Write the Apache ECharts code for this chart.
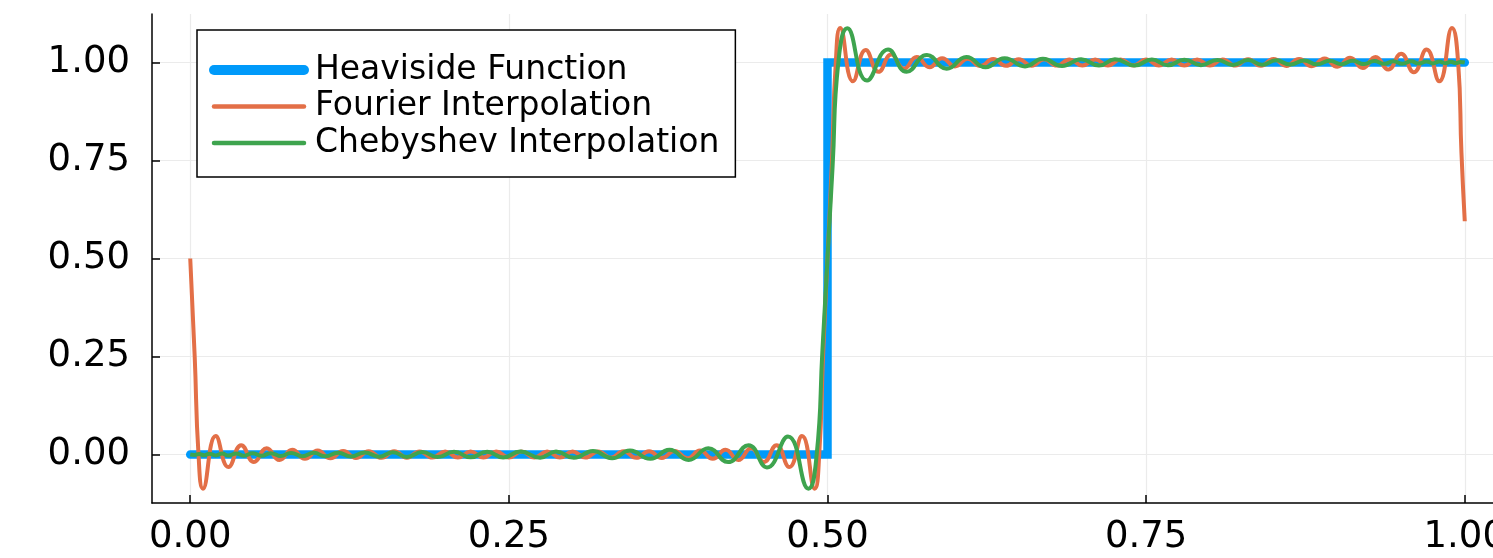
<!DOCTYPE html>
<html>
<head>
<meta charset="utf-8">
<script src="https://cdn.jsdelivr.net/npm/echarts@6/dist/echarts.min.js"></script>
<style>
  html, body { margin: 0; padding: 0; background: #fff; }
  #chart { width: 1493px; height: 558px; }
</style>
</head>
<body>
<div id="chart"></div>
<script>
const seriesNames = ["Heaviside Function", "Fourier Interpolation", "Chebyshev Interpolation"];
const xTicks = [0, 0.25, 0.5, 0.75, 1];
const yTicks = [0, 0.25, 0.5, 0.75, 1];

const heavisideX = [0, 0.5, 0.5, 1];
const heavisideY = [0, 0, 1, 1];

// extremes of the wiggles plus a few points on the steep parts
const fourierX = [
  0, 0.0035, 0.0065,
  0.01, 0.02, 0.03, 0.04, 0.05, 0.06, 0.07, 0.08, 0.09, 0.10,
  0.11, 0.12, 0.13, 0.14, 0.15, 0.16, 0.17, 0.18, 0.19, 0.20,
  0.21, 0.22, 0.23, 0.24, 0.25, 0.26, 0.27, 0.28, 0.29, 0.30,
  0.31, 0.32, 0.33, 0.34, 0.35, 0.36, 0.37, 0.38, 0.39, 0.40,
  0.41, 0.42, 0.43, 0.44, 0.45, 0.46, 0.47, 0.48, 0.49,
  0.4935, 0.4965, 0.5, 0.5035, 0.5065,
  0.51, 0.52, 0.53, 0.54, 0.55, 0.56, 0.57, 0.58, 0.59, 0.60,
  0.61, 0.62, 0.63, 0.64, 0.65, 0.66, 0.67, 0.68, 0.69, 0.70,
  0.71, 0.72, 0.73, 0.74, 0.75, 0.76, 0.77, 0.78, 0.79, 0.80,
  0.81, 0.82, 0.83, 0.84, 0.85, 0.86, 0.87, 0.88, 0.89, 0.90,
  0.91, 0.92, 0.93, 0.94, 0.95, 0.96, 0.97, 0.98, 0.99,
  0.9948, 0.9974, 1.0
];
const fourierY = [
  0.5, 0.25, 0.0,
  -0.087, 0.047, -0.032, 0.024, -0.019, 0.016, -0.014, 0.012, -0.011, 0.010,
  -0.0095, 0.009, -0.0088, 0.0086, -0.0084, 0.0082, -0.008, 0.008, -0.0078, 0.0078,
  -0.0077, 0.0076, -0.0076, 0.0076, -0.0075, 0.0076, -0.0076, 0.0076, -0.0077, 0.0078,
  -0.0078, 0.008, -0.008, 0.0082, -0.0084, 0.0086, -0.0088, 0.009, -0.0095, 0.010,
  -0.011, 0.012, -0.014, 0.016, -0.019, 0.024, -0.032, 0.047, -0.087,
  0.0, 0.25, 0.5, 0.75, 1.0,
  1.088, 0.952, 1.032, 0.976, 1.020, 0.984, 1.014, 0.988, 1.011, 0.990,
  1.0095, 0.991, 1.0088, 0.9914, 1.0084, 0.9918, 1.008, 0.992, 1.0078, 0.9922,
  1.0077, 0.9924, 1.0076, 0.9924, 1.0075, 0.9924, 1.0076, 0.9924, 1.0077, 0.9922,
  1.0078, 0.992, 1.0082, 0.9916, 1.0086, 0.9912, 1.009, 0.9905, 1.010, 0.989,
  1.012, 0.986, 1.014, 0.982, 1.022, 0.975, 1.033, 0.952, 1.088,
  1.0, 0.77, 0.595
];

const chebyshevX = [
  0, 0.0035, 0.007, 0.011, 0.015, 0.020, 0.025, 0.030, 0.036, 0.042,
  0.049, 0.056, 0.063, 0.071, 0.079, 0.088, 0.097, 0.106, 0.116, 0.126,
  0.137, 0.148, 0.159, 0.170, 0.182, 0.194, 0.207, 0.220, 0.233, 0.2455,
  0.259, 0.2745, 0.287, 0.301, 0.316, 0.331, 0.345, 0.361, 0.376, 0.391,
  0.4065, 0.422, 0.438, 0.4525, 0.469, 0.485,
  0.4915, 0.496, 0.5, 0.504, 0.5085,
  0.5155, 0.531, 0.5475, 0.562, 0.578, 0.5935, 0.609, 0.624, 0.639, 0.655,
  0.669, 0.684, 0.699, 0.713, 0.7255, 0.741, 0.7545, 0.767, 0.780, 0.793,
  0.806, 0.818, 0.830, 0.841, 0.852, 0.863, 0.874, 0.884, 0.894, 0.903,
  0.912, 0.921, 0.929, 0.937, 0.944, 0.951, 0.958, 0.964, 0.970, 0.975,
  0.980, 0.985, 0.989, 0.993, 0.9965, 1.0
];
const chebyshevY = [
  0, -0.001, 0.0015, -0.0018, 0.002, -0.0022, 0.0024, -0.0026, 0.0028, -0.003,
  0.0032, -0.0034, 0.0036, -0.0038, 0.004, -0.0042, 0.0044, -0.0046, 0.0048, -0.005,
  0.0053, -0.0055, 0.0058, -0.006, 0.0062, -0.0065, 0.0068, -0.007, 0.0072, -0.0075,
  0.0078, -0.008, 0.008, -0.0085, 0.009, -0.0095, 0.010, -0.011, 0.012, -0.014,
  0.016, -0.019, 0.024, -0.033, 0.046, -0.087,
  0.0, 0.265, 0.5, 0.735, 1.0,
  1.087, 0.954, 1.033, 0.976, 1.019, 0.984, 1.014, 0.988, 1.011, 0.990,
  1.0095, 0.991, 1.0085, 0.992, 1.008, 0.9922, 1.0075, 0.9928, 1.007, 0.9932,
  1.0065, 0.9938, 1.006, 0.9942, 1.0055, 0.9947, 1.005, 0.9952, 1.0046, 0.9956,
  1.0042, 0.996, 1.0038, 0.9964, 1.0034, 0.9968, 1.003, 0.9972, 1.0026, 0.9976,
  1.0022, 0.998, 1.0018, 0.9985, 1.001, 1.0
];

const colors = ["#009AFA", "#E36F47", "#3EA44E"];
const pairs = (xs, ys) => xs.map((x, i) => [x, ys[i]]);
const font = "DejaVu Sans";

const chart = echarts.init(document.getElementById("chart"), null, { renderer: "canvas" });

const axisCommon = {
  type: "value",
  axisLine: { show: true, onZero: false, lineStyle: { color: "#000", width: 1.5 } },
  splitLine: { show: true, lineStyle: { color: "#ebebeb", width: 1.2 } },
};

chart.setOption({
  animation: false,
  color: colors,
  // plot runs a little past the right edge of the picture, like the original
  grid: { left: 152, right: -10, top: 14, bottom: 55, containLabel: false, outerBoundsMode: "none" },
  xAxis: {
    ...axisCommon,
    min: -0.03,
    max: 1.03,
    axisTick: { show: true, inside: true, length: 8, customValues: xTicks, lineStyle: { color: "#000", width: 1.5 } },
    axisLabel: {
      customValues: xTicks,
      formatter: (v) => v.toFixed(2),
      fontSize: 37, fontFamily: font, color: "#000", margin: 16,
    },
  },
  yAxis: {
    ...axisCommon,
    min: -0.1236,
    max: 1.1236,
    axisTick: { show: true, inside: true, length: 8, customValues: yTicks, lineStyle: { color: "#000", width: 1.5 } },
    axisLabel: {
      customValues: yTicks,
      formatter: (v) => v.toFixed(2),
      fontSize: 37, fontFamily: font, color: "#000", margin: 22,
    },
  },
  legend: {
    orient: "vertical",
    left: 197,
    top: 30,
    padding: [22, 16, 16, 12],
    itemGap: 0.5,
    itemWidth: 90,
    itemHeight: 14,
    backgroundColor: "#fff",
    borderColor: "#000",
    borderWidth: 1.5,
    borderRadius: 0,
    itemStyle: { opacity: 0 },
    textStyle: { fontSize: 33, fontFamily: font, color: "#000", lineHeight: 36, padding: [0, 0, 0, 6] },
    data: [
      { name: seriesNames[0], lineStyle: { width: 10, cap: "round" } },
      { name: seriesNames[1], lineStyle: { width: 4.5, cap: "round" } },
      { name: seriesNames[2], lineStyle: { width: 4.5, cap: "round" } },
    ],
  },
  series: [
    {
      name: seriesNames[0],
      type: "line",
      symbol: "none",
      data: pairs(heavisideX, heavisideY),
      lineStyle: { width: 8.5, color: colors[0], cap: "round", join: "miter" },
    },
    {
      name: seriesNames[1],
      type: "line",
      symbol: "none",
      smooth: 0.5,
      data: pairs(fourierX, fourierY),
      lineStyle: { width: 4, color: colors[1] },
    },
    {
      name: seriesNames[2],
      type: "line",
      symbol: "none",
      smooth: 0.5,
      data: pairs(chebyshevX, chebyshevY),
      lineStyle: { width: 4, color: colors[2] },
    },
  ],
});
</script>
</body>
</html>
